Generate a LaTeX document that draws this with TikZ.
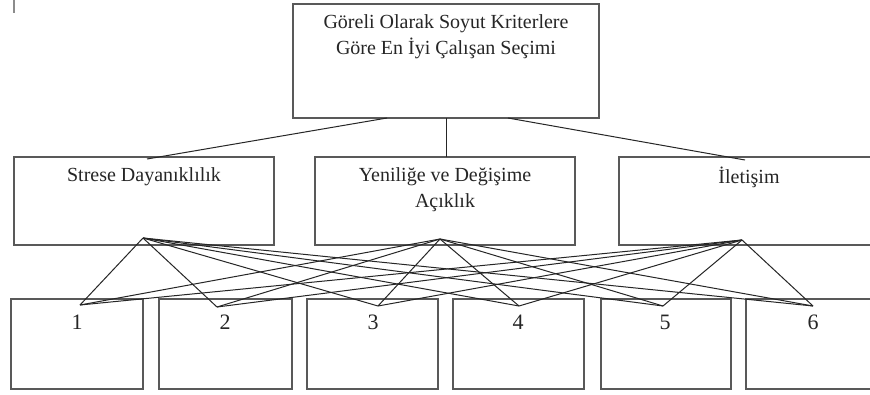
\documentclass[tikz,border=0pt]{standalone}
\usepackage{fontspec}
\setmainfont{Liberation Serif}
\begin{document}
\begin{tikzpicture}[x=1pt,y=-1pt,
  box/.style={draw=black!65,line width=1.2pt,minimum width=#1,inner sep=0pt},
  txt/.style={font=\fontsize{20}{26}\selectfont,align=center,inner sep=0pt,text=black!85},
  num/.style={font=\fontsize{22}{24}\selectfont,inner sep=0pt,text=black!85},
  con/.style={draw=black!85,line width=1pt}]
\useasboundingbox[fill=white] (0,0) rectangle (870,394);
\draw[black!45,line width=1.2pt] (14,0) -- (14,13);
% boxes
\node[box=306pt,minimum height=114pt] (top) at (446,61) {};
\node[box=260pt,minimum height=88pt] (mL) at (144,201) {};
\node[box=260pt,minimum height=88pt] (mM) at (445,201) {};
\node[box=260pt,minimum height=88pt] (mR) at (749,201) {};
\foreach \i/\cx/\w in {1/77/132,2/225.5/133,3/372.5/131,4/518.5/131,5/666/130,6/811.5/131}
  \node[box=\w pt,minimum height=90pt] (b\i) at (\cx,344) {};
% texts
\node[txt] (tT) at (446,37) {Göreli Olarak Soyut Kriterlere\\Göre En İyi Çalışan Seçimi};
\node[txt] (tL) at (144,177) {Strese Dayanıklılık};
\node[txt] (tM) at (445,190) {Yeniliğe ve Değişime\\Açıklık};
\node[txt] (tR) at (749,177) {İletişim};
\foreach \i/\x in {1/77,2/225,3/373,4/518,5/665,6/813}
  \node[num] (n\i) at (\x,322) {\i};
% connector points
\coordinate (o1) at (387,118);
\coordinate (o2) at (446,118);
\coordinate (o3) at (508,118);
\coordinate (e1) at (147,159);
\coordinate (e2) at (446,157);
\coordinate (e3) at (745,160);
\coordinate (h1) at (143,238);
\coordinate (h2) at (440,239);
\coordinate (h3) at (742,240);
\coordinate (p1) at (80,305);
\coordinate (p2) at (217,307);
\coordinate (p3) at (378,306);
\coordinate (p4) at (519,306);
\coordinate (p5) at (663,306);
\coordinate (p6) at (813,306);
\draw[con] (o1) -- (e1);
\draw[con] (o2) -- (e2);
\draw[con] (o3) -- (e3);
\foreach \h in {1,2,3}
  \foreach \p in {1,...,6}
    \draw[con] (h\h) -- (p\p);
\end{tikzpicture}
\end{document}
